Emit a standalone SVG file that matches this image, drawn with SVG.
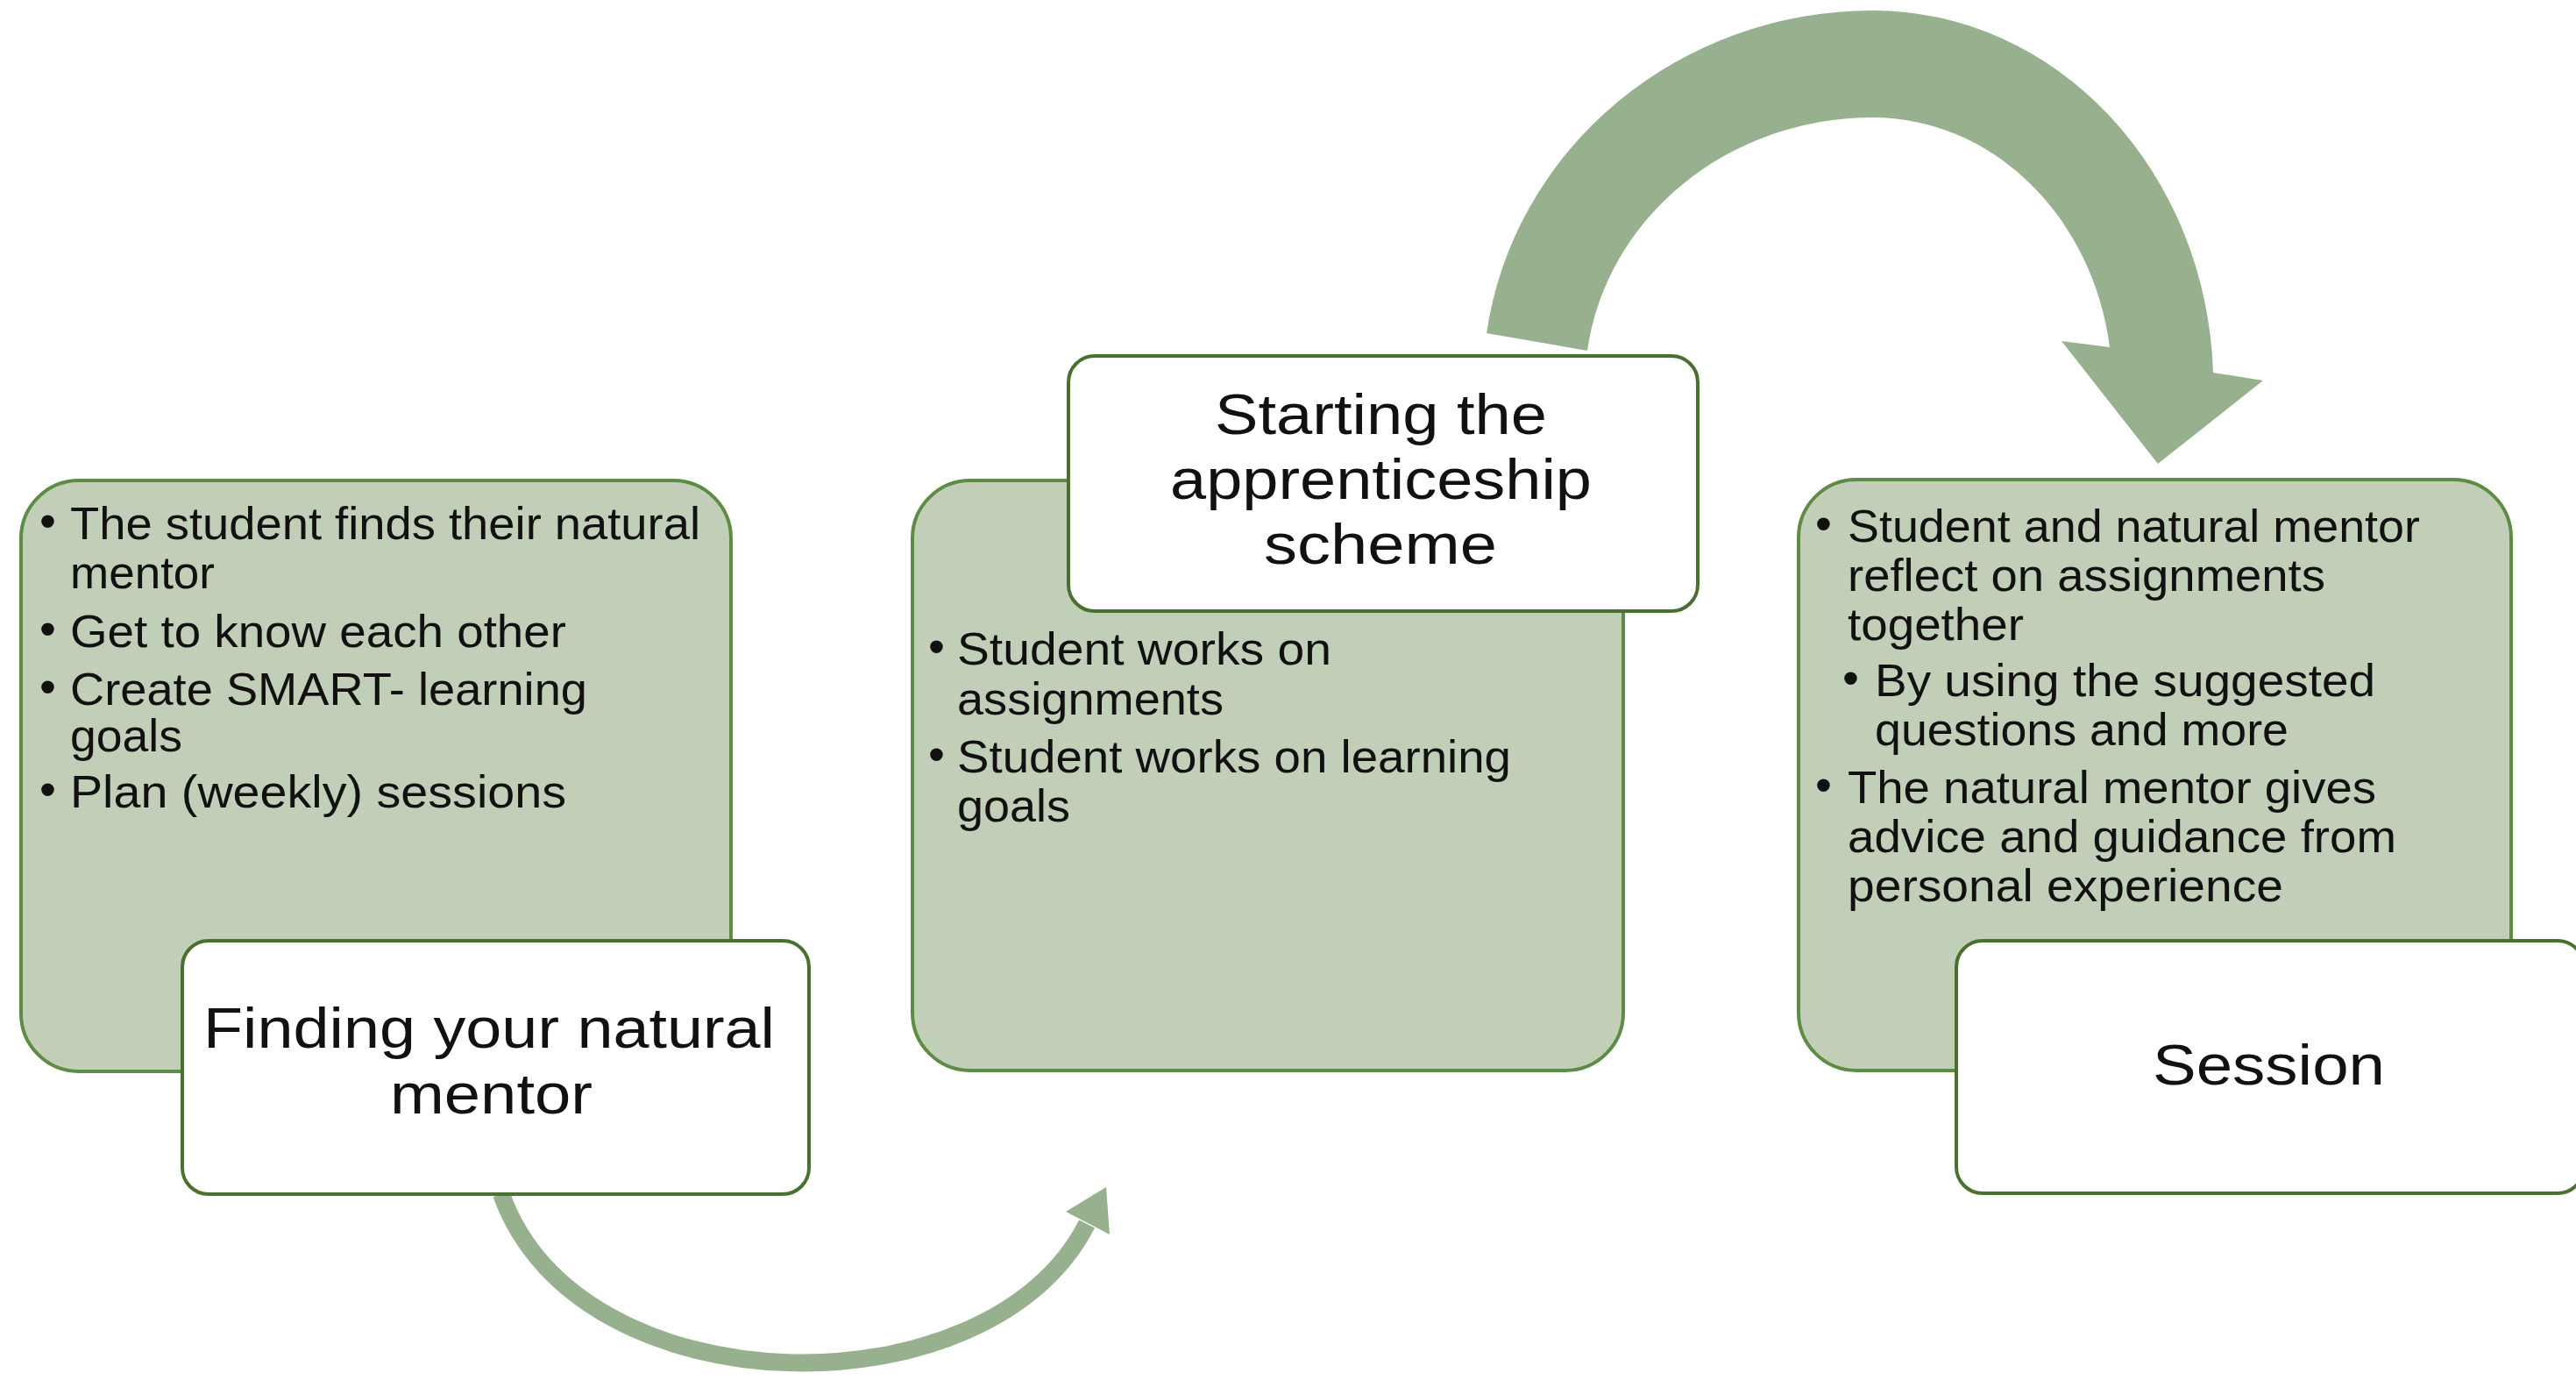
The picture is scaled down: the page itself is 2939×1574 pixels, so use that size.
<svg xmlns="http://www.w3.org/2000/svg" width="2939" height="1574" viewBox="0 0 2939 1574">
<style>
.panel{fill:#c2cfb8;stroke:#5e8c45;stroke-width:4}
.label{fill:#ffffff;stroke:#4a7030;stroke-width:4}
.body{font-family:"Liberation Sans",Arial,sans-serif;font-size:52px;fill:#111111}
.bul{font-family:"Liberation Sans",Arial,sans-serif;font-size:54px;fill:#111111}
.title{font-family:"Liberation Sans",Arial,sans-serif;font-size:64px;fill:#111111}
.arrow{fill:#97b08d}
.thin{fill:none;stroke:#97b08d;stroke-width:20}
</style>
<rect width="2939" height="1574" fill="#ffffff"/>
<g id="connectors">
  <path class="arrow" d="M1696,380 A445,428 0 0 1 2137,12 A388,428 0 0 1 2525,425 L2582,434 L2462,529 L2352,389 L2407,396 A273,306 0 0 0 2137,134 A328,306 0 0 0 1811,400 Z"/>
  <path class="thin" d="M572,1362 C660,1610 1130,1615 1240,1396"/>
  <polygon class="arrow" points="1262,1354 1216,1382 1266,1408"/>
</g>
<g id="node-finding">
  <rect class="panel" x="24" y="548" width="810" height="674" rx="66"/>
  <text class="bul" x="45" y="613">•</text>
  <text class="body" x="80" y="615" textLength="719" lengthAdjust="spacingAndGlyphs">The student finds their natural</text>
  <text class="body" x="80" y="671" textLength="165" lengthAdjust="spacingAndGlyphs">mentor</text>
  <text class="bul" x="45" y="736">•</text>
  <text class="body" x="80" y="738" textLength="566" lengthAdjust="spacingAndGlyphs">Get to know each other</text>
  <text class="bul" x="45" y="802">•</text>
  <text class="body" x="80" y="804" textLength="590" lengthAdjust="spacingAndGlyphs">Create SMART- learning</text>
  <text class="body" x="80" y="857" textLength="128" lengthAdjust="spacingAndGlyphs">goals</text>
  <text class="bul" x="45" y="919">•</text>
  <text class="body" x="80" y="921" textLength="566" lengthAdjust="spacingAndGlyphs">Plan (weekly) sessions</text>
  <rect class="label" x="208" y="1073" width="715" height="289" rx="30"/>
  <text class="title" x="232" y="1195" textLength="652" lengthAdjust="spacingAndGlyphs">Finding your natural</text>
  <text class="title" x="445" y="1270" textLength="231" lengthAdjust="spacingAndGlyphs">mentor</text>
</g>
<g id="node-starting">
  <rect class="panel" x="1041" y="548" width="811" height="673" rx="66"/>
  <rect class="label" x="1219" y="406" width="718" height="291" rx="30"/>
  <text class="title" x="1386" y="495" textLength="379" lengthAdjust="spacingAndGlyphs">Starting the</text>
  <text class="title" x="1335" y="569" textLength="481" lengthAdjust="spacingAndGlyphs">apprenticeship</text>
  <text class="title" x="1442" y="643" textLength="266" lengthAdjust="spacingAndGlyphs">scheme</text>
  <text class="bul" x="1059" y="756">•</text>
  <text class="body" x="1092" y="758" textLength="427" lengthAdjust="spacingAndGlyphs">Student works on</text>
  <text class="body" x="1092" y="815" textLength="304" lengthAdjust="spacingAndGlyphs">assignments</text>
  <text class="bul" x="1059" y="879">•</text>
  <text class="body" x="1092" y="881" textLength="632" lengthAdjust="spacingAndGlyphs">Student works on learning</text>
  <text class="body" x="1092" y="937" textLength="129" lengthAdjust="spacingAndGlyphs">goals</text>
</g>
<g id="node-session">
  <rect class="panel" x="2052" y="547" width="813" height="674" rx="66"/>
  <text class="bul" x="2071" y="616">•</text>
  <text class="body" x="2108" y="618" textLength="653" lengthAdjust="spacingAndGlyphs">Student and natural mentor</text>
  <text class="body" x="2108" y="674" textLength="545" lengthAdjust="spacingAndGlyphs">reflect on assignments</text>
  <text class="body" x="2108" y="730" textLength="201" lengthAdjust="spacingAndGlyphs">together</text>
  <text class="bul" x="2102" y="792">•</text>
  <text class="body" x="2139" y="794" textLength="571" lengthAdjust="spacingAndGlyphs">By using the suggested</text>
  <text class="body" x="2139" y="850" textLength="472" lengthAdjust="spacingAndGlyphs">questions and more</text>
  <text class="bul" x="2071" y="914">•</text>
  <text class="body" x="2108" y="916" textLength="603" lengthAdjust="spacingAndGlyphs">The natural mentor gives</text>
  <text class="body" x="2108" y="972" textLength="626" lengthAdjust="spacingAndGlyphs">advice and guidance from</text>
  <text class="body" x="2108" y="1028" textLength="497" lengthAdjust="spacingAndGlyphs">personal experience</text>
  <rect class="label" x="2232" y="1073" width="716" height="288" rx="30"/>
  <text class="title" x="2456" y="1237" textLength="265" lengthAdjust="spacingAndGlyphs">Session</text>
</g>
</svg>
